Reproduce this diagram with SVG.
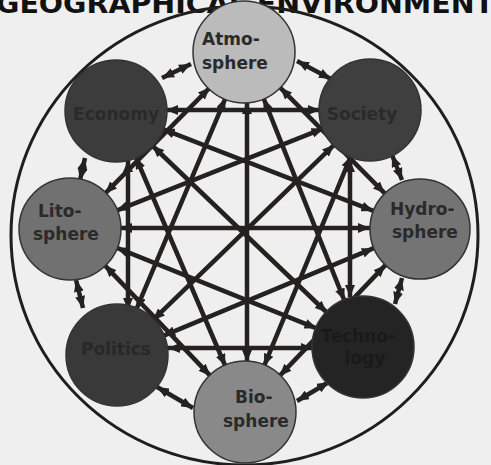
<svg xmlns="http://www.w3.org/2000/svg" width="491" height="465" viewBox="0 0 491 465">
<style>
.lbl{font-family:"DejaVu Sans",Verdana,sans-serif;font-weight:bold;font-size:17px}
.node{stroke:#333;stroke-width:1.5}
.e{stroke:#252120;stroke-width:4.5;fill:none;marker-start:url(#ah);marker-end:url(#ah)}
</style>
<defs>
<marker id="ah" markerUnits="userSpaceOnUse" markerWidth="12" markerHeight="10" refX="12" refY="5" orient="auto-start-reverse" viewBox="0 0 12 10">
<path d="M0,0 L12,5 L0,10 z" fill="#252120"/>
</marker>
</defs>
<rect x="0" y="0" width="491" height="465" fill="#efefef"/>
<text x="-4" y="13" textLength="498" lengthAdjust="spacingAndGlyphs" style="font-family:'DejaVu Sans',Verdana,sans-serif;font-weight:bold;font-size:27px" fill="#111">GEOGRAPHICAL ENVIRONMENT</text>
<ellipse cx="244.5" cy="235.5" rx="233.5" ry="229.5" fill="none" stroke="#1e1e1e" stroke-width="3"/>
<g id="connectors">
<line class="e" x1="162" y1="78" x2="191" y2="64"/>
<line class="e" x1="297" y1="61" x2="331" y2="79"/>
<line class="e" x1="85" y1="158" x2="80" y2="180"/>
<line class="e" x1="392" y1="155" x2="402" y2="180"/>
<line class="e" x1="76" y1="280" x2="83" y2="308"/>
<line class="e" x1="402" y1="278" x2="395" y2="304"/>
<line class="e" x1="157" y1="387" x2="193" y2="408"/>
<line class="e" x1="297" y1="401" x2="329" y2="382"/>
<line class="e" x1="209.8" y1="87.6" x2="105.2" y2="193.4"/>
<line class="e" x1="280.2" y1="87.6" x2="384.8" y2="193.4"/>
<line class="e" x1="225.5" y1="98.1" x2="136.5" y2="308.9"/>
<line class="e" x1="263.6" y1="98.4" x2="344.4" y2="300.6"/>
<line class="e" x1="247" y1="102" x2="247" y2="362"/>
<line class="e" x1="166" y1="110" x2="320" y2="110"/>
<line class="e" x1="162.6" y1="129.1" x2="373.4" y2="210.9"/>
<line class="e" x1="128" y1="160" x2="128" y2="310"/>
<line class="e" x1="152.2" y1="145.5" x2="326.8" y2="312.5"/>
<line class="e" x1="135.7" y1="157" x2="225.3" y2="366"/>
<line class="e" x1="323.5" y1="128.4" x2="116.5" y2="210.6"/>
<line class="e" x1="334.1" y1="144.8" x2="152.9" y2="320.2"/>
<line class="e" x1="350" y1="160" x2="350" y2="297"/>
<line class="e" x1="350.9" y1="156.2" x2="264.1" y2="365.8"/>
<line class="e" x1="120" y1="228" x2="370" y2="228"/>
<line class="e" x1="116.4" y1="247.7" x2="316.6" y2="328.3"/>
<line class="e" x1="104.6" y1="265.1" x2="210.4" y2="375.9"/>
<line class="e" x1="373.8" y1="248.2" x2="163.2" y2="335.8"/>
<line class="e" x1="385.4" y1="265.1" x2="279.6" y2="375.9"/>
<line class="e" x1="168" y1="348" x2="313" y2="348"/>
</g>
<g id="atmosphere">
<circle class="node" cx="244" cy="52" r="51" fill="#bbbbbb"/>
<text class="lbl" x="202" y="45" fill="#2a2a2a">Atmo-</text>
<text class="lbl" x="202" y="69" fill="#2a2a2a">sphere</text>
</g>
<g id="economy">
<circle class="node" cx="116" cy="111" r="51" fill="#3c3c3c"/>
<text class="lbl" x="116" y="120" text-anchor="middle" fill="#2a2a2a">Economy</text>
</g>
<g id="society">
<circle class="node" cx="370" cy="110" r="51" fill="#3f3f3f"/>
<text class="lbl" x="362" y="120" text-anchor="middle" fill="#2a2a2a">Society</text>
</g>
<g id="litosphere">
<circle class="node" cx="70" cy="229" r="51" fill="#717171"/>
<text class="lbl" x="38" y="217" fill="#2a2a2a">Lito-</text>
<text class="lbl" x="33" y="240" fill="#2a2a2a">sphere</text>
</g>
<g id="hydrosphere">
<circle class="node" cx="420" cy="229" r="50" fill="#747474"/>
<text class="lbl" x="390" y="215" fill="#2a2a2a">Hydro-</text>
<text class="lbl" x="392" y="238" fill="#2a2a2a">sphere</text>
</g>
<g id="politics">
<circle class="node" cx="117" cy="355" r="51" fill="#393939"/>
<text class="lbl" x="116" y="355" text-anchor="middle" fill="#282828">Politics</text>
</g>
<g id="technology">
<circle class="node" cx="363" cy="347" r="51" fill="#242424"/>
<text class="lbl" x="358" y="342" text-anchor="middle" fill="#1a1a1a">Techno-</text>
<text class="lbl" x="365" y="364" text-anchor="middle" fill="#1a1a1a">logy</text>
</g>
<g id="biosphere">
<circle class="node" cx="245" cy="412" r="51" fill="#898989"/>
<text class="lbl" x="235" y="403" fill="#2a2a2a">Bio-</text>
<text class="lbl" x="223" y="427" fill="#2a2a2a">sphere</text>
</g>
</svg>
